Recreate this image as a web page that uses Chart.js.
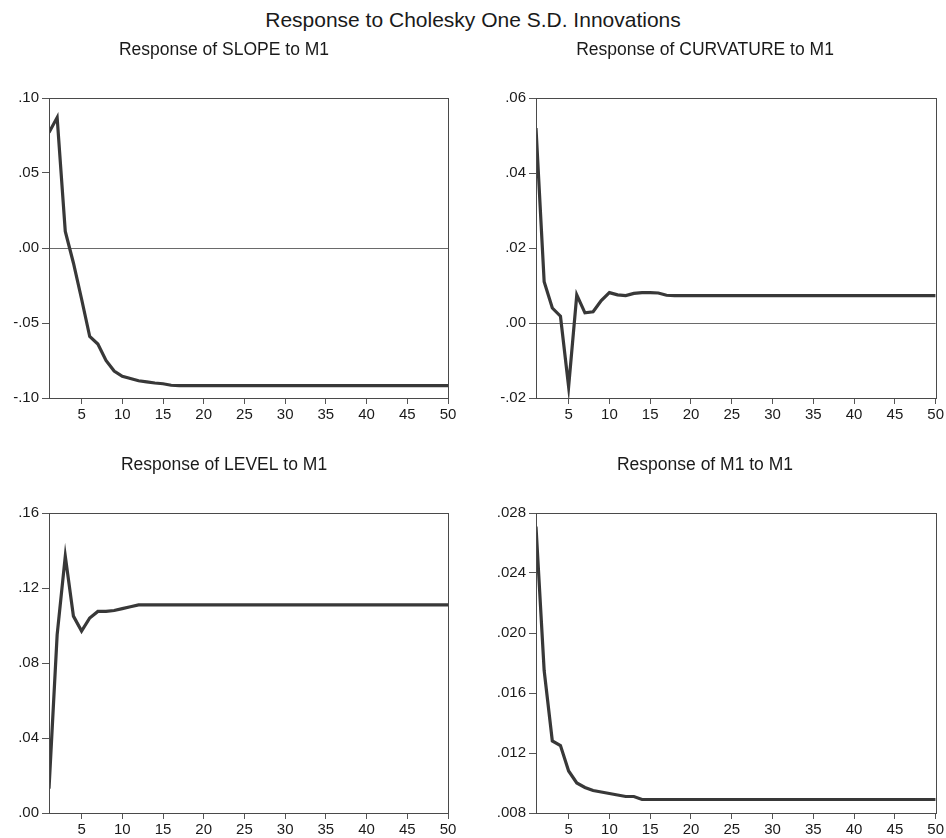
<!DOCTYPE html>
<html>
<head>
<meta charset="utf-8">
<script src="https://cdn.jsdelivr.net/npm/chart.js@4.4.1/dist/chart.umd.min.js"></script>
<style>
  body { margin: 0; background: #fff; overflow: hidden; width: 946px; height: 838px; }
  #mainTitle { position: absolute; left: 0; top: 7px; width: 946px; text-align: center;
               font-family: "Liberation Sans", Arial, sans-serif; font-size: 21px; line-height: 26px; color: #1a1a1a; }
  canvas { position: absolute; }
</style>
</head>
<body>
<div id="mainTitle">Response to Cholesky One S.D. Innovations</div>
<canvas id="slopeChart" width="460" height="393" style="left:0px;top:30px"></canvas>
<canvas id="curvatureChart" width="473" height="393" style="left:473px;top:30px"></canvas>
<canvas id="levelChart" width="460" height="393" style="left:0px;top:445px"></canvas>
<canvas id="m1Chart" width="473" height="393" style="left:473px;top:445px"></canvas>
<script>
// periods 1..50
var periods = [1,2,3,4,5,6,7,8,9,10,11,12,13,14,15,16,17,18,19,20,21,22,23,24,25,
               26,27,28,29,30,31,32,33,34,35,36,37,38,39,40,41,42,43,44,45,46,47,48,49,50];
var xTicks = [5,10,15,20,25,30,35,40,45,50];

var slopeValues = [0.077,0.087,0.011,-0.010,-0.034,-0.059,-0.064,-0.075,-0.082,-0.0855,
                   -0.087,-0.0885,-0.0893,-0.0900,-0.0905,-0.0915,-0.0918,-0.0918,-0.0918,-0.0918,
                   -0.0918,-0.0918,-0.0918,-0.0918,-0.0918,-0.0918,-0.0918,-0.0918,-0.0918,-0.0918,
                   -0.0918,-0.0918,-0.0918,-0.0918,-0.0918,-0.0918,-0.0918,-0.0918,-0.0918,-0.0918,
                   -0.0918,-0.0918,-0.0918,-0.0918,-0.0918,-0.0918,-0.0918,-0.0918,-0.0918,-0.0918];
var curvatureValues = [0.052,0.011,0.004,0.0018,-0.017,0.0075,0.0027,0.003,0.006,0.0081,
                       0.0075,0.0073,0.0079,0.0081,0.0081,0.0080,0.0074,0.0073,0.0073,0.0073,
                       0.0073,0.0073,0.0073,0.0073,0.0073,0.0073,0.0073,0.0073,0.0073,0.0073,
                       0.0073,0.0073,0.0073,0.0073,0.0073,0.0073,0.0073,0.0073,0.0073,0.0073,
                       0.0073,0.0073,0.0073,0.0073,0.0073,0.0073,0.0073,0.0073,0.0073,0.0073];
var levelValues = [0.013,0.095,0.137,0.105,0.097,0.104,0.1075,0.1075,0.108,0.109,
                   0.110,0.111,0.111,0.111,0.111,0.111,0.111,0.111,0.111,0.111,
                   0.111,0.111,0.111,0.111,0.111,0.111,0.111,0.111,0.111,0.111,
                   0.111,0.111,0.111,0.111,0.111,0.111,0.111,0.111,0.111,0.111,
                   0.111,0.111,0.111,0.111,0.111,0.111,0.111,0.111,0.111,0.111];
var m1Values = [0.0271,0.0175,0.0128,0.0125,0.0108,0.0100,0.0097,0.0095,0.0094,0.0093,
                0.0092,0.0091,0.0091,0.0089,0.0089,0.0089,0.0089,0.0089,0.0089,0.0089,
                0.0089,0.0089,0.0089,0.0089,0.0089,0.0089,0.0089,0.0089,0.0089,0.0089,
                0.0089,0.0089,0.0089,0.0089,0.0089,0.0089,0.0089,0.0089,0.0089,0.0089,
                0.0089,0.0089,0.0089,0.0089,0.0089,0.0089,0.0089,0.0089,0.0089,0.0089];

var slopeTicks = [-0.10,-0.05,0,0.05,0.10];
var curvatureTicks = [-0.02,0,0.02,0.04,0.06];
var levelTicks = [0,0.04,0.08,0.12,0.16];
var m1Ticks = [0.008,0.012,0.016,0.020,0.024,0.028];

var fontFamily = '"Liberation Sans", Arial, sans-serif';

// EViews style labels: .05, -.10, .012
function formatTick(v, decimals) {
    var s = Math.abs(v).toFixed(decimals).replace(/^0/, '');
    return (v < -1e-9 ? '-' : '') + s;
}

var frameBox = {
    id: 'frameBox',
    afterDatasetsDraw: function(chart) {
        var a = chart.chartArea;
        var c = chart.ctx;
        c.save();
        c.strokeStyle = '#4a4a4a';
        c.lineWidth = 1;
        c.strokeRect(Math.round(a.left) + 0.5, Math.round(a.top) + 0.5,
                     Math.round(a.right - a.left), Math.round(a.bottom - a.top));
        c.restore();
    }
};

function makeChart(canvasId, title, values, yTicks, decimals, yAxisWidth, rightPad, zeroLine) {
    var ctx = document.getElementById(canvasId).getContext('2d');
    var points = [];
    for (var i = 0; i < periods.length; i++) {
        points.push({x: periods[i], y: values[i]});
    }
    return new Chart(ctx, {
        type: 'line',
        data: {
            datasets: [{
                data: points,
                borderColor: '#383838',
                borderWidth: 3.2,
                pointRadius: 0,
                tension: 0,
                fill: false
            }]
        },
        options: {
            responsive: false,
            animation: false,
            events: [],
            layout: { padding: { top: 0, right: rightPad, bottom: 0, left: 0 } },
            plugins: {
                legend: { display: false },
                tooltip: { enabled: false },
                title: {
                    display: true,
                    text: title,
                    color: '#1a1a1a',
                    font: { family: fontFamily, size: 17.5, weight: 'normal' },
                    padding: { top: 10, bottom: 37 }
                }
            },
            scales: {
                x: {
                    type: 'linear',
                    min: 1,
                    max: 50,
                    afterBuildTicks: function(scale) {
                        scale.ticks = xTicks.map(function(v) { return {value: v}; });
                    },
                    afterFit: function(scale) { scale.height = 25; },
                    border: { display: false },
                    grid: { drawOnChartArea: false, tickLength: 6, tickColor: '#555' },
                    ticks: {
                        color: '#1a1a1a',
                        padding: 2,
                        maxRotation: 0,
                        autoSkip: false,
                        font: { family: fontFamily, size: 15 }
                    }
                },
                y: {
                    min: yTicks[0],
                    max: yTicks[yTicks.length - 1],
                    afterBuildTicks: function(scale) {
                        scale.ticks = yTicks.map(function(v) { return {value: v}; });
                    },
                    afterFit: function(scale) { scale.width = yAxisWidth; },
                    border: { display: false },
                    grid: {
                        drawOnChartArea: true,
                        tickLength: 7,
                        tickColor: '#555',
                        color: function(c) {
                            return (zeroLine && c.tick && Math.abs(c.tick.value) < 1e-9) ? '#6a6a6a' : 'rgba(0,0,0,0)';
                        }
                    },
                    ticks: {
                        color: '#1a1a1a',
                        padding: 3,
                        autoSkip: false,
                        font: { family: fontFamily, size: 15 },
                        callback: function(v) { return formatTick(v, decimals); }
                    }
                }
            }
        },
        plugins: [frameBox]
    });
}

makeChart('slopeChart', 'Response of SLOPE to M1', slopeValues, slopeTicks, 2, 49, 12, true);
makeChart('curvatureChart', 'Response of CURVATURE to M1', curvatureValues, curvatureTicks, 2, 63, 9, true);
makeChart('levelChart', 'Response of LEVEL to M1', levelValues, levelTicks, 2, 49, 12, false);
makeChart('m1Chart', 'Response of M1 to M1', m1Values, m1Ticks, 3, 63, 9, false);
</script>
</body>
</html>
